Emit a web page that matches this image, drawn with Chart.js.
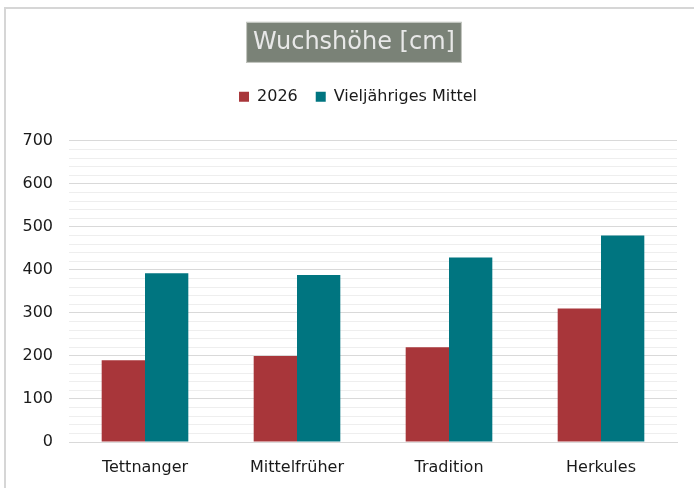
<!DOCTYPE html>
<html>
<head>
<meta charset="utf-8">
<script src="https://cdn.jsdelivr.net/npm/chart.js@4"></script>
<style>
  body { margin: 0; background: #fff; }
  #frame { position: absolute; left: 4px; top: 7px; width: 720px; height: 520px; border: 2px solid #d6d6d6; }
  #wrap { position: absolute; left: 0; top: 0; width: 694px; height: 488px; }
</style>
</head>
<body>
<div id="frame"></div>
<div id="wrap"><canvas id="chart"></canvas></div>
<script>
const categories = ['Tettnanger', 'Mittelfrüher', 'Tradition', 'Herkules'];
const values2026 = [190, 200, 220, 310];
const valuesMittel = [392, 388, 429, 480];
const seriesNames = ['2026', 'Vieljähriges Mittel'];

// grey box behind the title
const titleBox = {
    id: 'titleBox',
    afterLayout(chart) {
        // title and legend sit a bit right of the canvas centre
        chart.titleBlock.left += 5;
        chart.titleBlock.right += 5;
        chart.legend.left += 9;
        chart.legend.right += 9;
    },
    beforeDraw(chart) {
        const t = chart.titleBlock;
        const ctx = chart.ctx;
        ctx.save();
        ctx.font = '24px "DejaVu Sans"';
        const w = ctx.measureText(t.options.text).width;
        const cx = (t.left + t.right) / 2;
        const cy = t.top + t.options.padding.top + 14.4;
        ctx.fillStyle = '#7a8277';
        ctx.fillRect(cx - w / 2 - 7, cy - 20.5, w + 14, 41);
        ctx.strokeStyle = '#c9ccc7';
        ctx.lineWidth = 1;
        ctx.strokeRect(cx - w / 2 - 7 + 0.5, cy - 20.5 + 0.5, w + 13, 40);
        ctx.restore();
    }
};

// extra room under the legend
const legendGap = {
    id: 'legendGap',
    beforeInit(chart) {
        const fit = chart.legend.fit;
        chart.legend.fit = function () {
            fit.bind(chart.legend)();
            this.height += 26;
        };
    }
};

Chart.defaults.font.family = '"DejaVu Sans", Verdana, sans-serif';
Chart.defaults.font.size = 16;
Chart.defaults.color = '#1a1a1a';

new Chart(document.getElementById('chart'), {
    type: 'bar',
    data: {
        labels: categories,
        datasets: [
            { label: seriesNames[0], data: values2026, backgroundColor: '#a8363a', barPercentage: 1, categoryPercentage: 0.57 },
            { label: seriesNames[1], data: valuesMittel, backgroundColor: '#007580', barPercentage: 1, categoryPercentage: 0.57 }
        ]
    },
    options: {
        responsive: true,
        maintainAspectRatio: false,
        animation: false,
        layout: { padding: { left: 21, right: 17, top: 0, bottom: 0 } },
        plugins: {
            title: {
                display: true,
                text: 'Wuchshöhe [cm]',
                color: '#e8e8e8',
                font: { size: 24, weight: 'normal' },
                padding: { top: 28, bottom: 14 }
            },
            legend: {
                labels: { boxWidth: 10, boxHeight: 10, padding: 18 }
            },
            tooltip: { enabled: false }
        },
        scales: {
            x: {
                grid: { display: false, drawTicks: false },
                border: { color: '#d9d9d9' },
                ticks: { padding: 16 },
                afterFit(scale) { scale.height = 46; }
            },
            y: {
                min: 0,
                max: 700,
                border: { display: false },
                grid: {
                    drawTicks: false,
                    color: ctx => (ctx.tick && ctx.tick.value % 100 === 0) ? '#d9d9d9' : '#eeeeee'
                },
                ticks: {
                    stepSize: 20,
                    padding: 16,
                    autoSkip: false,
                    callback: v => (v % 100 === 0 ? v : '')
                },
                afterFit(scale) { scale.width = 48; }
            }
        }
    },
    plugins: [titleBox, legendGap]
});
</script>
</body>
</html>
